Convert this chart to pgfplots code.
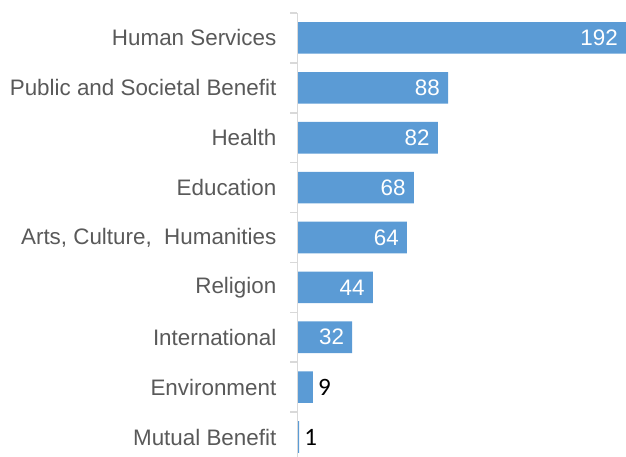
\documentclass[border=0pt]{standalone}
\usepackage{pgfplots}
\pgfplotsset{compat=1.18}
\usepackage{fontspec}
\setmainfont{Liberation Sans}
\newfontfamily\calibri{Carlito}
\definecolor{barblue}{HTML}{5B9BD5}
\definecolor{labelgray}{HTML}{595959}
\definecolor{axisgray}{HTML}{D9D9D9}

\begin{document}
\begin{tikzpicture}
\begin{axis}[
  scale only axis, width=328.5bp, height=444bp,
  xmin=0, xmax=192, ymin=-0.4, ymax=8.5,
  axis x line=none, axis y line=left, axis on top,
  y axis line style={-, draw=axisgray, line width=1.5bp},
  ytick={0,...,8},
  yticklabels={{Mutual Benefit},{Environment},{International},{Religion},
    {Arts, Culture,\ \ Humanities},{Education},{Health},
    {Public and Societal Benefit},{Human Services}},
  major tick length=0pt,
  minor ytick={-0.5,0.5,...,8.5},
  minor tick length=7bp,
  tick align=outside,
  minor tick style={draw=axisgray, line width=1.5bp},
  yticklabel style={font=\fontsize{22.4bp}{26bp}\selectfont, text=labelgray,
    inner sep=0pt, xshift=-21bp},
  /pgf/number format/assume math mode=true,
  clip=false,
]
\coordinate (ll) at (rel axis cs:0,0);
\coordinate (ur) at (rel axis cs:1,1);
% bars
\addplot[xbar, bar shift=0pt, bar width=31.6bp, fill=barblue, draw=none]
  coordinates {(1,0) (9,1) (32,2) (44,3) (64,4) (68,5) (82,6) (88,7) (192,8)};
% labels inside the bars
\addplot[xbar, bar shift=0pt, bar width=31.6bp, draw=none, fill=none, forget plot,
  point meta=x, nodes near coords, nodes near coords align={horizontal},
  nodes near coords style={anchor=east, inner sep=0pt, xshift=-8bp, text=white,
    font=\fontsize{22.4bp}{26bp}\selectfont}]
  coordinates {(32,2) (44,3) (64,4) (68,5) (82,6) (88,7) (192,8)};
% labels beside the short bars
\addplot[xbar, bar shift=0pt, bar width=31.6bp, draw=none, fill=none, forget plot,
  point meta=x, nodes near coords, nodes near coords align={horizontal},
  nodes near coords style={anchor=west, inner sep=0pt, xshift=5bp, text=black,
    font=\calibri\fontsize{25bp}{30bp}\selectfont}]
  coordinates {(1,0) (9,1)};
\end{axis}
\pgfresetboundingbox
\path[use as bounding box] ([xshift=-297.5bp]ll) rectangle ([yshift=13bp]ur);
\end{tikzpicture}
\end{document}
